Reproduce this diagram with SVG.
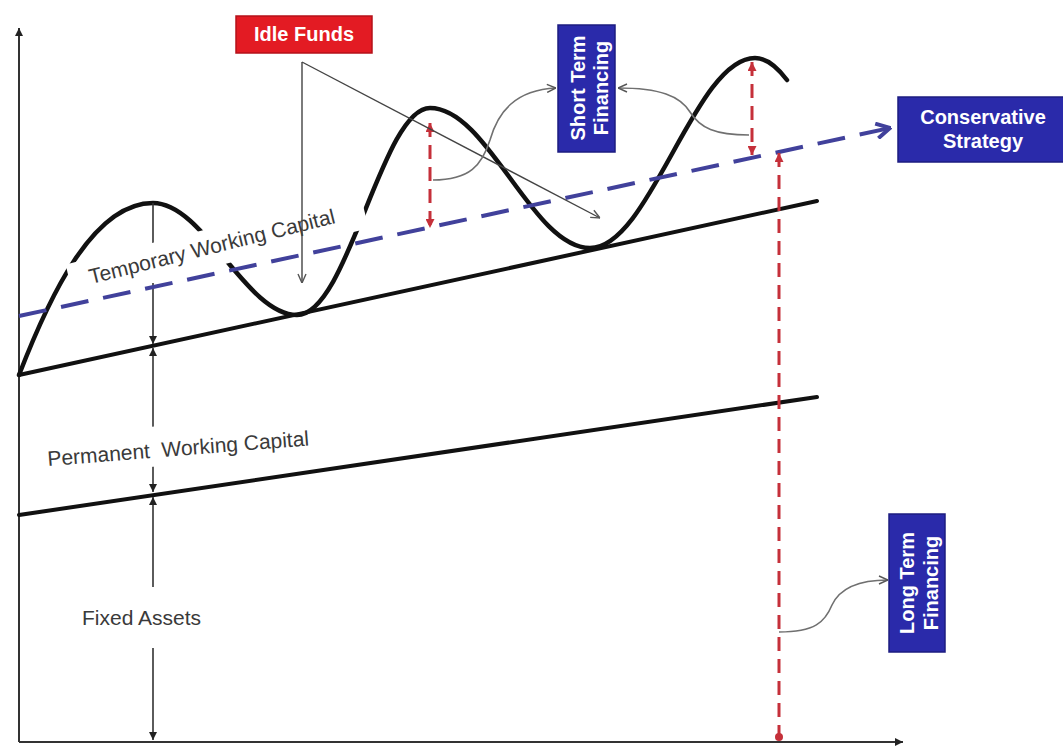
<svg xmlns="http://www.w3.org/2000/svg" width="1063" height="747" viewBox="0 0 1063 747">
<style>
.axis{stroke:#333;stroke-width:2;fill:none}
.solid{stroke:#111;stroke-width:4;fill:none;stroke-linecap:round}
.wave{stroke:#111;stroke-width:4.5;fill:none;stroke-linecap:round}
.meas{stroke:#333;stroke-width:1.6;fill:none}
.blue{stroke:#41419b;stroke-width:4;fill:none;stroke-dasharray:28 15}
.red{stroke:#c5303a;stroke-width:3;fill:none;stroke-dasharray:14 8}
.thin{stroke:#444;stroke-width:1.4;fill:none}
.curve{stroke:#707070;stroke-width:1.6;fill:none}
.lbl{font-family:"Liberation Sans",Arial,sans-serif;font-size:21px;fill:#3a3a3a}
.bx{font-family:"Liberation Sans",Arial,sans-serif;font-size:20px;font-weight:bold;fill:#fff;text-anchor:middle}
.bluebox{fill:#2a2aaa;stroke:#1c1c80;stroke-width:1.5}
.redbox{fill:#e31b23;stroke:#b5121a;stroke-width:1.5}
.bg{fill:#fff}
</style>
<defs>
<marker id="mk-black" viewBox="0 0 8 8" refX="8" refY="4" markerWidth="8" markerHeight="8" markerUnits="userSpaceOnUse" orient="auto-start-reverse"><path d="M0,0 L8,4 L0,8 z" fill="#222"/></marker>
<marker id="mk-red" viewBox="0 0 8 8" refX="8" refY="4" markerWidth="9" markerHeight="9" markerUnits="userSpaceOnUse" orient="auto-start-reverse"><path d="M0,0 L8,4 L0,8 z" fill="#c5303a"/></marker>
<marker id="mk-blue" viewBox="0 0 12 12" refX="11" refY="6" markerWidth="18" markerHeight="18" markerUnits="userSpaceOnUse" orient="auto"><path d="M2,1 L11,6 L2,11" fill="none" stroke="#41419b" stroke-width="2.6"/></marker>
<marker id="mk-open" viewBox="0 0 10 10" refX="10" refY="5" markerWidth="10" markerHeight="10" markerUnits="userSpaceOnUse" orient="auto"><path d="M1,1 L10,5 L1,9" fill="none" stroke="#555" stroke-width="1.4"/></marker>
</defs>

<g id="axes">
<line class="axis" x1="19" y1="742" x2="19" y2="28" marker-end="url(#mk-black)"/>
<line class="axis" x1="19" y1="742" x2="903" y2="742" marker-end="url(#mk-black)"/>
</g>

<g id="levels">
<line class="solid" x1="19" y1="375" x2="817" y2="201"/>
<line class="solid" x1="19" y1="515" x2="817" y2="397"/>
<path class="wave" d="M19,375 C48,300 92,203 153,203 C204,203 246,315 297,315 C348,315 382,108 430,108 C488,108 532,248 590,248 C650,248 695,58 755,58 C768,58 778,68 787,80"/>
</g>

<g id="measure">
<line class="meas" x1="153" y1="203" x2="153" y2="245"/>
<line class="meas" x1="153" y1="283" x2="153" y2="344" marker-end="url(#mk-black)"/>
<line class="meas" x1="153" y1="348" x2="153" y2="428" marker-start="url(#mk-black)"/>
<line class="meas" x1="153" y1="466" x2="153" y2="492" marker-end="url(#mk-black)"/>
<line class="meas" x1="153" y1="497" x2="153" y2="588" marker-start="url(#mk-black)"/>
<line class="meas" x1="153" y1="648" x2="153" y2="740" marker-end="url(#mk-black)"/>
</g>

<g id="label-temporary" transform="translate(91,284) rotate(-14)">
<rect class="bg" x="-20" y="-25" width="303" height="38"/>
<text class="lbl" x="0" y="0">Temporary Working Capital</text>
</g>
<g id="label-permanent" transform="translate(48,466) rotate(-4.5)">
<rect class="bg" x="-8" y="-31" width="282" height="40"/>
<text class="lbl" x="0" y="0">Permanent&#160; Working Capital</text>
</g>
<g id="label-fixed" transform="translate(82,625)">
<rect class="bg" x="-8" y="-38" width="135" height="61"/>
<text class="lbl" x="0" y="0">Fixed Assets</text>
</g>

<g id="connectors">
<line class="blue" x1="19" y1="316" x2="890" y2="128" marker-end="url(#mk-blue)"/>
<line class="red" x1="430" y1="123" x2="430" y2="228" marker-start="url(#mk-red)" marker-end="url(#mk-red)"/>
<line class="red" x1="752" y1="62" x2="752" y2="155" marker-start="url(#mk-red)" marker-end="url(#mk-red)"/>
<line class="red" x1="779" y1="153" x2="779" y2="736" marker-start="url(#mk-red)"/>
<circle cx="779" cy="737" r="4" fill="#c5303a"/>
<line class="thin" x1="302" y1="62" x2="302" y2="283" marker-end="url(#mk-open)"/>
<line class="thin" x1="302" y1="62" x2="600" y2="218" marker-end="url(#mk-open)"/>
<path class="curve" d="M433,180 C470,180 482,165 490,140 C498,112 515,90 556,88" marker-end="url(#mk-open)"/>
<path class="curve" d="M749,135 C715,135 700,128 690,112 C680,96 660,88 618,88" marker-end="url(#mk-open)"/>
<path class="curve" d="M779,632 C815,632 825,622 832,605 C840,588 860,580 888,580" marker-end="url(#mk-open)"/>
</g>

<g id="idle-funds">
<rect class="redbox" x="236" y="16" width="136" height="37"/>
<text class="bx" x="304" y="41">Idle Funds</text>
</g>

<g id="short-term-financing">
<rect class="bluebox" x="558" y="25" width="57" height="127"/>
<text class="bx" transform="translate(585,88) rotate(-90)">Short Term</text>
<text class="bx" transform="translate(608,88) rotate(-90)">Financing</text>
</g>

<g id="conservative-strategy">
<rect class="bluebox" x="898" y="97" width="170" height="65"/>
<text class="bx" x="983" y="124">Conservative</text>
<text class="bx" x="983" y="148">Strategy</text>
</g>

<g id="long-term-financing">
<rect class="bluebox" x="889" y="514" width="56" height="138"/>
<text class="bx" transform="translate(914,583) rotate(-90)">Long Term</text>
<text class="bx" transform="translate(938,583) rotate(-90)">Financing</text>
</g>
</svg>
